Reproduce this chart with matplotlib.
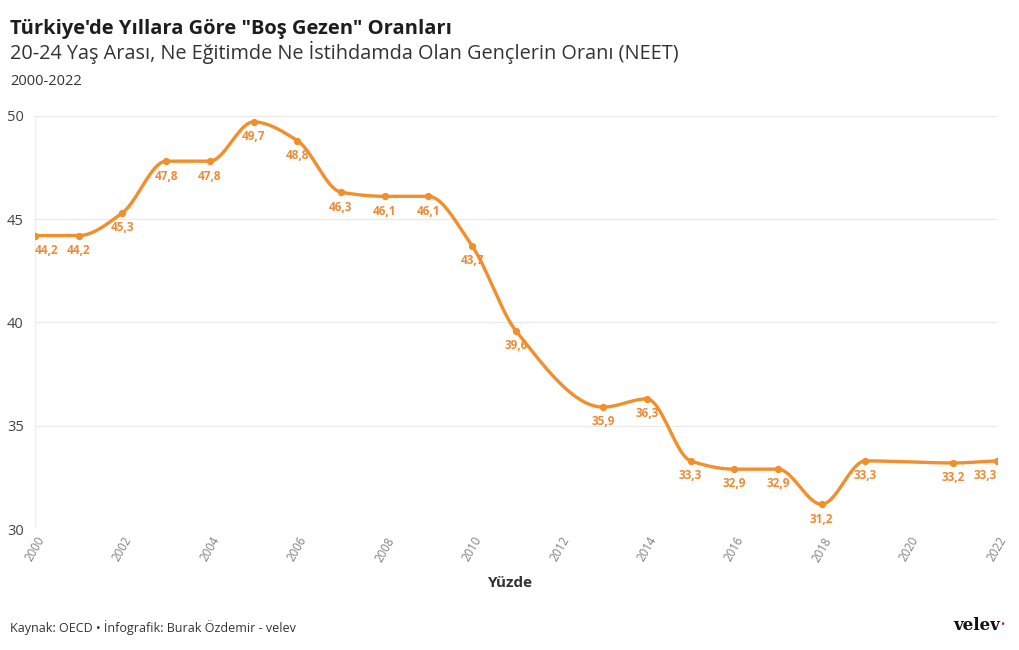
import numpy as np
import matplotlib.pyplot as plt

# --- data ---
years = [2000, 2001, 2002, 2003, 2004, 2005, 2006, 2007, 2008, 2009, 2010,
         2011, 2013, 2014, 2015, 2016, 2017, 2018, 2019, 2021, 2022]
neet = [44.2, 44.2, 45.3, 47.8, 47.8, 49.7, 48.8, 46.3, 46.1, 46.1, 43.7,
        39.6, 35.9, 36.3, 33.3, 32.9, 32.9, 31.2, 33.3, 33.2, 33.3]
xticks = list(range(2000, 2023, 2))
yticks = [30, 35, 40, 45, 50]

ORANGE = '#f28e2b'
LABEL = '#ee8a33'
plt.rcParams['font.family'] = ['Open Sans', 'DejaVu Sans']


def monotone_curve(x, y, n=20):
    # monotone cubic (Fritsch-Carlson) for drawing the smooth line
    x = np.asarray(x, float)
    y = np.asarray(y, float)
    h = np.diff(x)
    d = np.diff(y) / h
    m = np.zeros_like(y)
    m[0], m[-1] = d[0], d[-1]
    for i in range(1, len(y) - 1):
        if d[i - 1] * d[i] <= 0:
            m[i] = 0
        else:
            w1 = 2 * h[i] + h[i - 1]
            w2 = h[i] + 2 * h[i - 1]
            m[i] = (w1 + w2) / (w1 / d[i - 1] + w2 / d[i])
    xs, ys = [], []
    for i in range(len(x) - 1):
        t = np.linspace(0, 1, n, endpoint=False)
        h00 = 2 * t**3 - 3 * t**2 + 1
        h10 = t**3 - 2 * t**2 + t
        h01 = -2 * t**3 + 3 * t**2
        h11 = t**3 - t**2
        xs.extend(x[i] + t * h[i])
        ys.extend(h00 * y[i] + h10 * h[i] * m[i] + h01 * y[i + 1] + h11 * h[i] * m[i + 1])
    xs.append(x[-1])
    ys.append(y[-1])
    return np.array(xs), np.array(ys)


fig = plt.figure(figsize=(10.2, 6.5), dpi=100)
ax = fig.add_axes([0.0343, 0.186, 0.9427, 0.636])

cx, cy = monotone_curve(years, neet)
ax.plot(cx, cy, color=ORANGE, lw=2.4, solid_capstyle='round', zorder=3)
ax.scatter(years, neet, s=18, color=ORANGE, zorder=4)

for i, (yr, v) in enumerate(zip(years, neet)):
    ha = 'center'
    if i == 0:
        ha = 'left'
    elif i == len(years) - 1:
        ha = 'right'
    ax.annotate(f'{v:.1f}'.replace('.', ','), (yr, v), xytext=(0, -6),
                textcoords='offset points', ha=ha, va='top', fontsize=8.5,
                fontweight='bold', color=LABEL, zorder=5)

ax.set_xlim(2000, 2022)
ax.set_ylim(30, 50)
ax.set_yticks(yticks)
ax.set_xticks(xticks)
ax.set_xticklabels([str(t) for t in xticks], rotation=60, fontsize=8.3,
                   color='#808080', ha='center')
ax.set_yticklabels([str(t) for t in yticks], fontsize=10.5, color='#444444')
ax.tick_params(axis='y', length=0, pad=8)
ax.tick_params(axis='x', length=0, pad=4)
ax.grid(axis='y', color='#e9e9e9', lw=0.9)
ax.axvline(2000, color='#eeeeee', lw=0.9, zorder=0)
for s in ax.spines.values():
    s.set_visible(False)

fig.text(0.5, 0.097, 'Yüzde', ha='center', fontsize=11, fontweight='bold', color='#333333')

fig.text(0.010, 0.956, 'Türkiye\'de Yıllara Göre "Boş Gezen" Oranları', fontsize=14.5,
         fontweight='bold', color='#1d1d1d', va='center')
fig.text(0.010, 0.920, '20-24 Yaş Arası, Ne Eğitimde Ne İstihdamda Olan Gençlerin Oranı (NEET)',
         fontsize=14.3, color='#333333', va='center')
fig.text(0.010, 0.874, '2000-2022', fontsize=10.5, color='#333333', va='center')

fig.text(0.010, 0.035, 'Kaynak: OECD • İnfografik: Burak Özdemir - velev', fontsize=9,
         color='#333333', va='center')
fig.text(0.981, 0.031, 'velev', fontsize=12, fontweight='bold', family='DejaVu Serif',
         color='#111111', ha='right', va='baseline')
fig.text(0.9805, 0.034, '•', fontsize=8, color='#d0103a', ha='left', va='baseline')

fig.savefig('out.png', dpi=100)
